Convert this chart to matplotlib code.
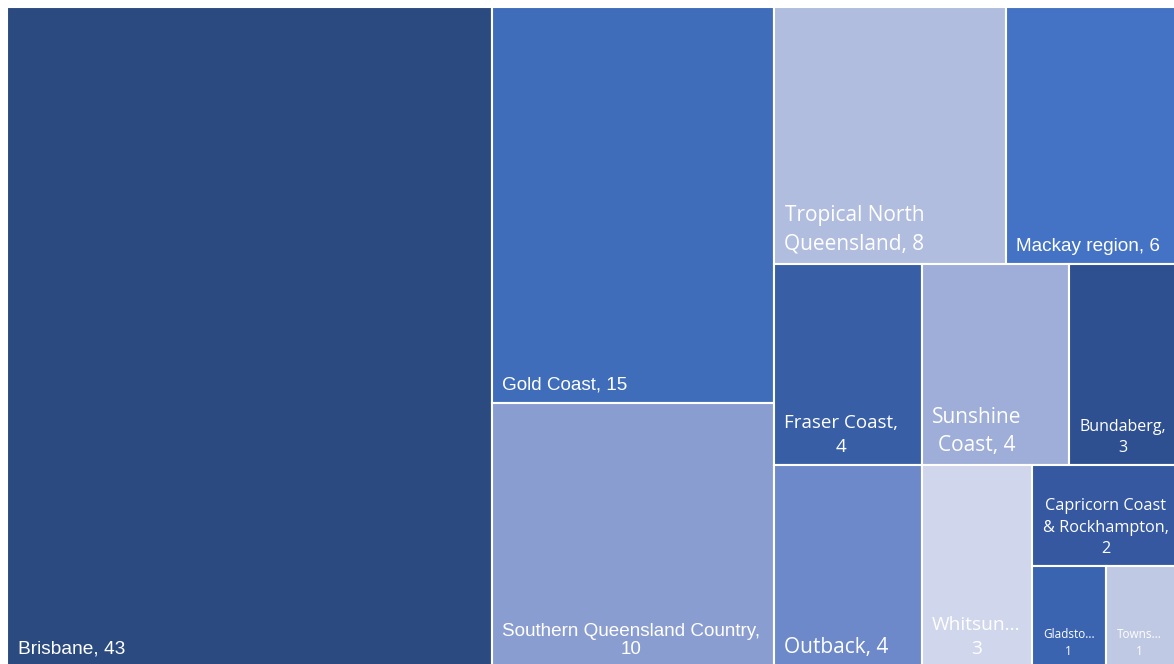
import matplotlib.pyplot as plt
from matplotlib.patches import Rectangle

# Visitors by tourism region (share)
names = ["Brisbane", "Gold Coast", "Southern Queensland Country",
         "Tropical North Queensland", "Mackay region", "Fraser Coast",
         "Sunshine Coast", "Outback", "Bundaberg", "Whitsun...",
         "Capricorn Coast & Rockhampton", "Gladsto...", "Towns..."]
values = [43, 15, 10, 8, 6, 4, 4, 4, 3, 3, 2, 1, 1]

# how each label is broken into lines
labels = ["Brisbane, 43", "Gold Coast, 15", "Southern Queensland Country,\n10",
          "Tropical North\nQueensland, 8", "Mackay region, 6", "Fraser Coast,\n4",
          "Sunshine\nCoast, 4", "Outback, 4", "Bundaberg,\n3", "Whitsun...\n3",
          "Capricorn Coast\n& Rockhampton,\n2", "Gladsto...\n1", "Towns...\n1"]

colors = ["#2b4a7f", "#3f6dba", "#8a9dd0", "#b1bddf", "#4472c4", "#385fa6",
          "#9eaed8", "#6d89c9", "#2f5090", "#d0d6eb", "#3558a0", "#3a63b0", "#bfc9e4"]

ARIAL = ["Liberation Sans", "DejaVu Sans"]
SEGOE = ["Open Sans", "DejaVu Sans"]
fonts = [ARIAL, ARIAL, ARIAL, SEGOE, ARIAL, SEGOE, SEGOE, SEGOE, SEGOE, SEGOE,
         SEGOE, SEGOE, SEGOE]
sizes = [13.8, 13.6, 13.6, 15, 13.7, 13.5, 15, 15, 11.5, 13.8, 11.7, 8.5, 8.5]

# nesting of the treemap: "h" = side by side, "v" = stacked
tree = ("h", [0, ("v", [1, 2]),
              ("v", [("h", [3, 4]), ("h", [5, 6, 8]),
                     ("h", [7, 9, ("v", [10, ("h", [11, 12])])])])])


def total(node):
    if isinstance(node, int):
        return values[node]
    return sum(total(c) for c in node[1])


def layout(node, x, y, w, h, out):
    if isinstance(node, int):
        out[node] = (x, y, w, h)
        return
    kind, children = node
    s = total(node)
    pos = 0.0
    for c in children:
        frac = total(c) / s
        if kind == "h":
            layout(c, x + pos * w, y, frac * w, h, out)
        else:
            layout(c, x, y + pos * h, w, frac * h, out)
        pos += frac


W, H = 1174, 664
fig = plt.figure(figsize=(W / 100, H / 100), dpi=100)
ax = fig.add_axes([0, 0, 1, 1])
ax.set_xlim(0, W)
ax.set_ylim(H, 0)
ax.axis("off")

rects = {}
layout(tree, 7, 7, 1173, 660, rects)

for i in range(len(values)):
    x, y, w, h = rects[i]
    ax.add_patch(Rectangle((x, y), w, h, facecolor=colors[i],
                           edgecolor="white", linewidth=1.5))
    ls = 1.1 if fonts[i] is ARIAL else 1.45
    ax.text(x + 10.5, y + h - 9, labels[i], color="white", fontsize=sizes[i],
            family=fonts[i], ha="left", va="bottom", multialignment="center",
            linespacing=ls)

fig.savefig("out.png", dpi=100)
